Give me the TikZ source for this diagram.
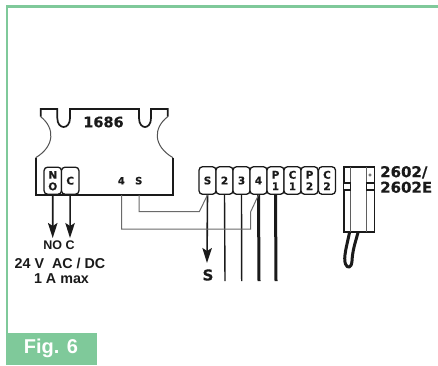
\documentclass[tikz,border=0pt]{standalone}
\usepackage{fontspec}
\setmainfont{Liberation Sans}
\newfontfamily\wide[FakeBold=0.4]{DejaVu Sans Bold}
\definecolor{figgreen}{HTML}{7FC99A}
\definecolor{ink}{HTML}{1A1A1A}
\usetikzlibrary{arrows.meta}
\tikzset{
  outline/.style={draw=ink,line width=1.7pt,line join=miter},
  curveline/.style={draw=ink!75,line width=1pt},
  term/.style={draw=ink,line width=1.3pt,rounded corners=3.5pt,fill=white},
  tlabel/.style={font=\wide\fontsize{10.5}{11.5}\selectfont,text=ink,inner sep=0pt,align=center},
  thin wire/.style={draw=ink!65,line width=1pt},
  wire/.style={draw=ink,line width=1.4pt},
  fat wire/.style={draw=ink,line width=3pt},
  arrow wire/.style={draw=ink,line width=1.6pt,-{Stealth[length=15pt,width=9.5pt,inset=3pt]}},
  caption/.style={font=\bfseries\fontsize{14.3}{14.3}\selectfont,text=ink,inner sep=0pt,align=center},
  model/.style={font=\wide\fontsize{15}{15.5}\selectfont,text=ink,inner sep=0pt,align=left,anchor=west},
}
\begin{document}
\begin{tikzpicture}[x=1pt,y=-1pt]
\useasboundingbox (0,0) rectangle (438,365);
\fill[white] (0,0) rectangle (438,365);
% green frame
\fill[figgreen] (6,5) rectangle (438,7.7);
\fill[figgreen] (6,5) rectangle (8.2,334);
\fill[figgreen] (6,333) rectangle (97,365);
\node[font=\bfseries\fontsize{20}{20}\selectfont,text=white,inner sep=0pt] (fig) at (51,348.5) {Fig. 6};
% device
\draw[curveline] (40.7,116.7) .. controls (55,128) and (55,146) .. (35.7,157.7);
\draw[curveline] (167.7,116.7) .. controls (153,128) and (153,146) .. (173,157.7);
\draw[outline] (35.7,157.7) -- (35.7,195) -- (173,195) -- (173,157.7);
\draw[outline] (40.7,116.7) -- (40.7,109) -- (57.3,109) -- (57.3,118)
  .. controls (57.3,130) and (70,130) .. (70,118) -- (70,109) -- (139,109) -- (139,118)
  .. controls (139,130) and (151,130) .. (151,118) -- (151,109) -- (167.7,109) -- (167.7,116.7);
\node[font=\wide\fontsize{14.5}{14.5}\selectfont,text=ink,inner sep=0pt] (dev) at (103.5,122) {1686};
\node[term,minimum width=17.5pt,minimum height=27pt,inner sep=0pt] (no) at (52.8,180.7) {};
\node[term,minimum width=17.5pt,minimum height=27pt,inner sep=0pt] (c) at (70.2,180.7) {};
\node[tlabel] at (no) {N\\O};
\node[tlabel] at (c) {C};
\node[tlabel,font=\wide\fontsize{10}{10}\selectfont] (four) at (121.3,180.7) {4};
\node[tlabel,font=\wide\fontsize{10}{10}\selectfont] (ess) at (138.7,180.7) {S};
% terminal strip
\foreach \n/\x/\t in {ts/207.5/S,t2/224.5/2,t3/241.5/3,t4/258.5/4,p1/275.5/P\\1,c1/292.5/C\\1,p2/309.5/P\\2,c2/327/C\\2}{
  \node[term,minimum width=17pt,minimum height=27.5pt,inner sep=0pt] (\n) at (\x,180.5) {};
  \node[tlabel] at (\n) {\t};
}
% free ends
\coordinate (noend) at (52.7,238);
\coordinate (cend) at (70,238);
\coordinate (send) at (207,263);
\coordinate (e2) at (225,281);
\coordinate (e3) at (241.7,281);
\coordinate (e4) at (259,281);
\coordinate (ep) at (276,281);
% wires
\draw[arrow wire] (no.south) -- (noend);
\draw[arrow wire] (c.south) -- (cend);
\draw[arrow wire] (ts.south) -- (send);
\draw[wire] (t2.south) -- (e2);
\draw[wire] (t3.south) -- (e3);
\draw[fat wire] (t4.south) -- (e4);
\draw[fat wire] (p1.south) -- (ep);
\draw[thin wire] (139,195) -- (139,211.7) -- (199.3,211.7) -- (ts.south);
\draw[thin wire] (121.7,195) -- (121.7,229) -- (250.7,229) -- (250.7,211.7) -- (t4.south);
% labels
\node[caption,font=\bfseries\fontsize{12.5}{12.5}\selectfont] (noc) at (59,245) {NO C};
\node[caption] (volt) at (60,263) {24 V\ \ AC / DC};
\node[caption] (amp) at (61.5,278.5) {1 A max};
\node[font=\wide\fontsize{15}{15}\selectfont,text=ink,inner sep=0pt] (slabel) at (208,275) {S};
% handset
\draw[draw=ink,line width=1.7pt,fill=white] (343.7,166.7) rectangle (374.5,231.7);
\draw[draw=ink!70,line width=0.8pt] (350.3,166.7) -- (350.3,231.7) (366.3,166.7) -- (366.3,231.7);
\draw[draw=ink,line width=1.3pt,fill=white] (343.7,183) rectangle (350.3,190);
\draw[draw=ink,line width=1.3pt,fill=white] (366.3,183) rectangle (374.5,190);
\draw[draw=ink!80,line width=0.6pt] (370,175) circle (1.2);
\draw[draw=ink,line width=3pt,line join=round] (349.5,232.5) .. controls (347,245) and (343,258) .. (345.5,264)
  .. controls (347.5,269) and (351.5,268) .. (352,261)
  .. controls (352.5,250) and (355.5,242) .. (358,232.5);
\node[model] (mod) at (380,179.5) {2602/\\2602E};
\end{tikzpicture}
\end{document}
